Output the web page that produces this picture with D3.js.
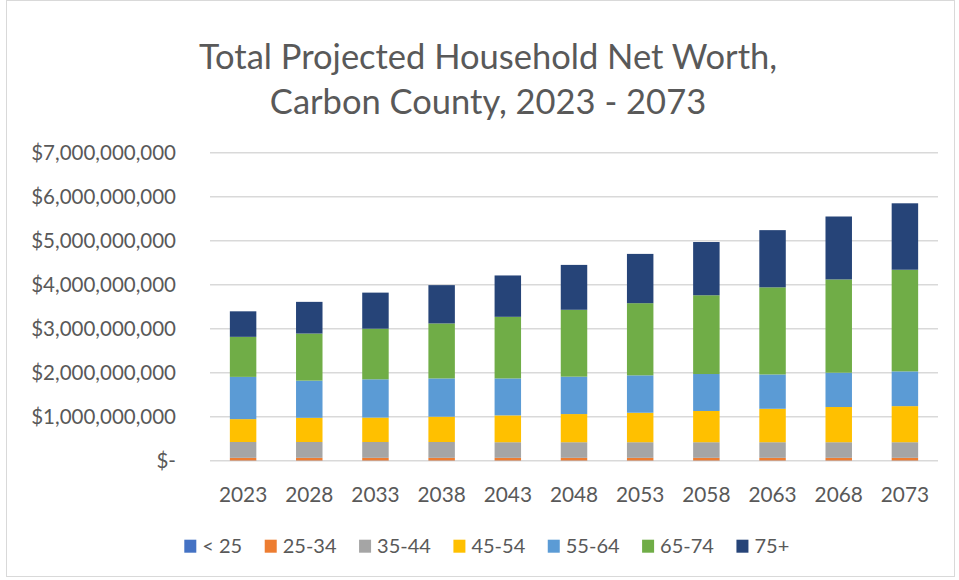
<!DOCTYPE html>
<html>
<head>
<meta charset="utf-8">
<script src="https://cdn.jsdelivr.net/npm/d3@7.9.0/dist/d3.min.js"></script>
<style>
  body { margin: 0; background: #fff; }
  text { font-family: Lato, "Open Sans", sans-serif; fill: #595959; }
</style>
</head>
<body>
<svg id="chart" width="959" height="580"></svg>
<script>
// data, in dollars
const years = ['2023', '2028', '2033', '2038', '2043', '2048', '2053', '2058', '2063', '2068', '2073'];
const ageGroups = ['< 25', '25-34', '35-44', '45-54', '55-64', '65-74', '75+'];
const under25 = [5, 5, 5, 5, 5, 5, 5, 5, 5, 5, 5].map(v => v * 1e6);
const age25to34 = [60, 60, 60, 60, 60, 60, 60, 60, 60, 60, 60].map(v => v * 1e6);
const age35to44 = [360, 360, 360, 360, 355, 355, 355, 355, 355, 355, 355].map(v => v * 1e6);
const age45to54 = [520, 550, 555, 575, 610, 640, 670, 710, 760, 800, 820].map(v => v * 1e6);
const age55to64 = [960, 845, 870, 870, 840, 850, 850, 840, 780, 780, 790].map(v => v * 1e6);
const age65to74 = [910, 1070, 1150, 1250, 1400, 1520, 1640, 1790, 1980, 2120, 2310].map(v => v * 1e6);
const age75plus = [580, 720, 820, 870, 940, 1020, 1120, 1210, 1300, 1430, 1510].map(v => v * 1e6);
const yTicks = [0, 1e9, 2e9, 3e9, 4e9, 5e9, 6e9, 7e9];
const colors = ['#4472C4', '#ED7D31', '#A5A5A5', '#FFC000', '#5B9BD5', '#70AD47', '#264478'];

const series = [under25, age25to34, age35to44, age45to54, age55to64, age65to74, age75plus];
const rows = years.map((y, i) => {
  let row = { year: y };
  ageGroups.forEach((g, j) => { row[g] = series[j][i]; });
  return row;
});

const svg = d3.select('#chart');
const plotLeft = 210, plotRight = 938, plotTop = 152.7, plotBottom = 460.7;

// chart border
svg.append('rect')
  .attr('x', 6.5).attr('y', 0.5).attr('width', 948).attr('height', 576)
  .attr('fill', 'none').attr('stroke', '#d9d9d9');

// title
const title = svg.append('text')
  .attr('x', 488).attr('text-anchor', 'middle')
  .style('font-size', '34.5px');
title.append('tspan').attr('x', 488).attr('y', 68.5).text('Total Projected Household Net Worth,');
title.append('tspan').attr('x', 488).attr('y', 114).text('Carbon County, 2023 - 2073');

const x = d3.scaleBand().domain(years).range([plotLeft, plotRight]).paddingInner(0.6).paddingOuter(0.3);
const y = d3.scaleLinear().domain([0, 7e9]).range([plotBottom, plotTop]);

// gridlines
svg.append('g').selectAll('line').data(yTicks).join('line')
  .attr('x1', plotLeft).attr('x2', plotRight)
  .attr('y1', d => y(d)).attr('y2', d => y(d))
  .attr('stroke', '#d9d9d9').attr('stroke-width', 1.5);

// y axis labels
const fmt = d => d === 0 ? '$-' : '$' + d3.format(',')(d);
const yAxis = svg.append('g').attr('transform', `translate(${plotLeft},0)`)
  .call(d3.axisLeft(y).tickValues(yTicks).tickFormat(fmt).tickSize(0).tickPadding(34));
yAxis.select('.domain').remove();
yAxis.selectAll('text').style('font-size', '20.5px').attr('fill', '#595959')
  .style('font-family', 'Lato, sans-serif');

// stacked bars
const stack = d3.stack().keys(ageGroups);
const layers = stack(rows);
svg.append('g').selectAll('g').data(layers).join('g')
  .attr('fill', (d, i) => colors[i])
  .selectAll('rect').data(d => d).join('rect')
  .attr('x', d => x(d.data.year))
  .attr('width', x.bandwidth())
  .attr('y', d => y(d[1]))
  .attr('height', d => y(d[0]) - y(d[1]));

// x axis labels
const xAxis = svg.append('g').attr('transform', `translate(0,${plotBottom})`)
  .call(d3.axisBottom(x).tickSize(0));
xAxis.select('.domain').remove();
xAxis.selectAll('text').style('font-size', '20.8px').attr('fill', '#595959')
  .style('font-family', 'Lato, sans-serif')
  .attr('dy', null).attr('y', 502 - plotBottom);

// legend
const legend = svg.append('g');
let lx = 184.3;
ageGroups.forEach((g, i) => {
  legend.append('rect').attr('x', lx).attr('y', 539.7).attr('width', 12).attr('height', 13)
    .attr('fill', colors[i]);
  const t = legend.append('text').attr('x', lx + 18).attr('y', 553)
    .style('font-size', '20px').text(g);
  lx += 18 + t.node().getComputedTextLength() + 22.5;
});
</script>
</body>
</html>
